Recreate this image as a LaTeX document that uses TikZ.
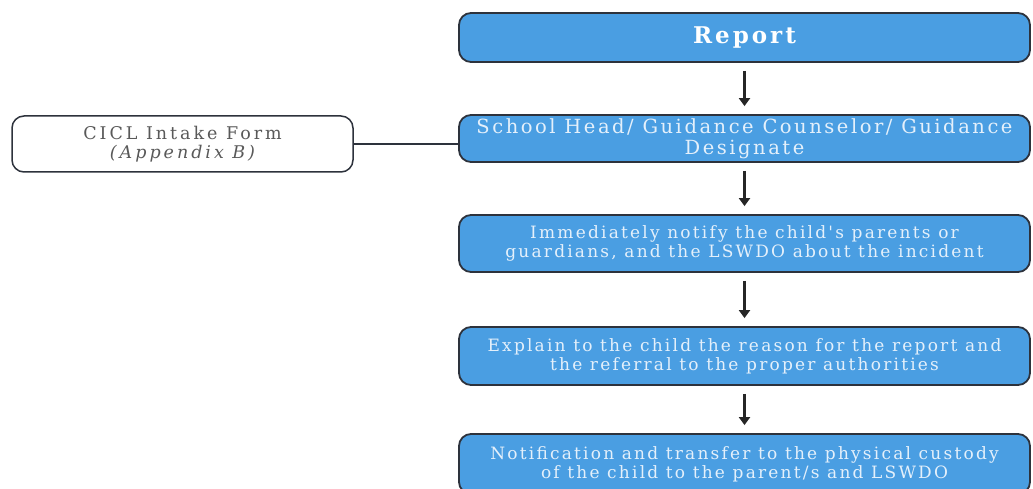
\documentclass[tikz,border=0pt]{standalone}
\usepackage{fontspec}
\setmainfont{DejaVu Serif}
\newfontfamily\spaced[LetterSpace=13]{DejaVu Serif}
\newfontfamily\widespaced[LetterSpace=17]{DejaVu Serif}
\usetikzlibrary{arrows.meta}
\definecolor{boxblue}{RGB}{74,158,226}
\definecolor{boxedge}{RGB}{45,50,60}
\begin{document}
\begin{tikzpicture}[x=1pt,y=-1pt]
\useasboundingbox (0,0) rectangle (1033,489);
\tikzset{
 stepbox/.style={draw=boxedge, line width=1.8pt, fill=boxblue, rounded corners=12pt,
   minimum width=571pt, text=white!85!boxblue, align=center, inner sep=0pt,
   font=\spaced\fontsize{17}{19}\selectfont},
 sidebox/.style={draw=boxedge, line width=1.5pt, fill=white, rounded corners=12pt,
   minimum width=341pt, minimum height=56pt, align=center, inner sep=0pt, text=black!65,
   font=\widespaced\fontsize{17.5}{19}\selectfont},
 flow/.style={-{Triangle[length=8pt,width=11pt]}, line width=3pt, draw=black!85,
   shorten <=8pt, shorten >=8pt},
 link/.style={draw=boxedge, line width=1.3pt}
}
\node[stepbox, minimum height=49pt, font=\spaced\bfseries\fontsize{23}{25}\selectfont, text=white] (report) at (744.5,37.5) {Report};
\node[stepbox, minimum height=47pt, font=\spaced\fontsize{19.5}{21}\selectfont] (head) at (744.5,138.5) {School Head/ Guidance Counselor/ Guidance\\Designate};
\node[stepbox, minimum height=57pt] (notify) at (744.5,243.5) {Immediately notify the child's parents or\\guardians, and the LSWDO about the incident};
\node[stepbox, minimum height=58pt] (explain) at (744.5,356) {Explain to the child the reason for the report and\\the referral to the proper authorities};
\node[stepbox, minimum height=60pt] (transfer) at (744.5,464) {Notification and transfer to the physical custody\\of the child to the parent/s and LSWDO};
\node[sidebox] (intake) at (182.5,144) {CICL Intake Form\\{\itshape (Appendix B)}};
\draw[flow] (report) -- (head);
\draw[flow] (head) -- (notify);
\draw[flow] (notify) -- (explain);
\draw[flow] (explain) -- (transfer);
\draw[link] (intake.east) -- (intake.east -| head.west);
\end{tikzpicture}
\end{document}
